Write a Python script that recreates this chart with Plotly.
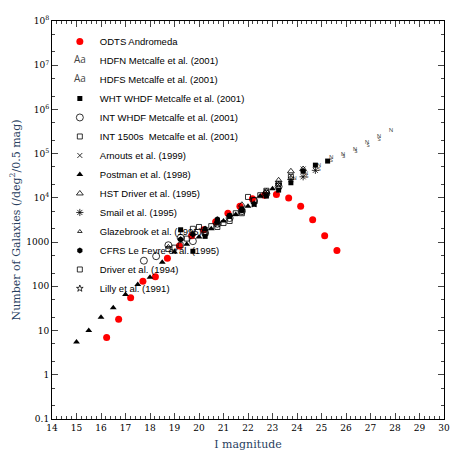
import plotly.graph_objects as go

# ODTS Andromeda
odts_mag = [16.23, 16.72, 17.21, 17.71, 18.22, 18.71, 19.2, 19.7, 20.19, 20.68, 21.18, 21.67,
            22.18, 22.67, 23.16, 23.66, 24.15, 24.64, 25.13, 25.63]
odts_n = [7, 18, 55, 130, 165, 430, 820, 1400, 1900, 2900, 4500, 6500,
          9500, 11500, 12000, 10000, 6500, 3200, 1400, 650]

hdfn_mag = [23.9, 24.37, 24.9, 25.4, 25.88, 26.37, 26.86, 27.35, 27.84]
hdfn_n = [27000, 36000, 55000, 83000, 95000, 125000, 175000, 250000, 330000]
hdfs_mag = [24.4, 24.9, 25.4, 25.9, 26.4, 26.9, 27.35]
hdfs_n = [30000, 45000, 70000, 85000, 110000, 150000, 210000]

wht_mag = [19.25, 19.75, 20.25, 20.75, 21.25, 21.75, 22.25, 22.75, 23.25, 23.75, 24.25, 24.75, 25.25]
wht_n = [1900, 620, 1350, 2900, 3900, 5500, 7200, 11000, 15000, 22000, 40000, 55000, 68000]

intw_mag = [17.75, 18.25, 18.75, 19.25, 19.75, 20.25, 20.75, 21.25, 21.75, 22.25, 22.75, 23.25]
intw_n = [380, 480, 850, 1250, 1050, 1600, 2600, 3500, 5000, 8500, 12500, 18000]

int15_mag = [18.75, 19.25, 19.75, 20.25, 20.75, 21.25, 21.75, 22.25, 22.75, 23.25, 23.75]
int15_n = [700, 850, 2000, 1600, 2200, 3000, 4500, 9000, 14500, 21000, 30000]

arn_mag = [22.75, 23.25, 23.75, 24.25]
arn_n = [14000, 20000, 32000, 45000]

post_mag = [15.0, 15.5, 16.0, 16.5, 17.0, 17.5, 18.0, 18.5, 19.0, 19.5, 20.0, 20.5,
            21.0, 21.5, 22.0, 22.5, 23.0]
post_n = [5.5, 10, 20, 33, 65, 110, 160, 350, 600, 900, 1300, 2000, 3000, 4200, 6500, 11000, 16000]

hst_mag = [21.75, 22.75, 23.25, 23.75, 24.25]
hst_n = [7000, 14000, 25000, 40000, 45000]

smail_mag = [23.75, 24.25, 24.75]
smail_n = [26000, 30000, 42000]

glaze_mag = [18.75, 19.25, 19.75, 20.25]
glaze_n = [800, 1200, 1500, 2000]

cfrs_mag = [19.25, 19.75, 20.25, 20.75, 21.25, 21.75]
cfrs_n = [1150, 1500, 2000, 3300, 4000, 5200]

driv_mag = [19.0, 19.5, 20.0, 20.5, 21.0, 21.5, 22.0, 22.5]
driv_n = [750, 1200, 2200, 2300, 2700, 4500, 10500, 11500]

lilly_mag = [20.25, 20.75, 21.25, 21.75, 22.25, 22.75, 23.25]
lilly_n = [1800, 2600, 3800, 5200, 7200, 12000, 20000]

fig = go.Figure()


def add(name, x, y, symbol, size=5, color='black'):
    fig.add_trace(go.Scatter(x=x, y=y, mode='markers', name=name,
                             marker=dict(symbol=symbol, size=size, color=color,
                                         line=dict(color='black', width=0.8) if 'open' in symbol else dict(width=0))))


def add_text(name, x, y, t):
    fig.add_trace(go.Scatter(x=x, y=y, mode='text', name=name, text=[t] * len(x),
                             textfont=dict(size=6, color='#444')))


add('ODTS Andromeda', odts_mag, odts_n, 'circle', 7, 'red')
add_text('HDFN Metcalfe et al. (2001)', hdfn_mag, hdfn_n, 'N')
add_text('HDFS Metcalfe et al. (2001)', hdfs_mag, hdfs_n, 'S')
add('WHT WHDF Metcalfe et al. (2001)', wht_mag, wht_n, 'square', 5)
add('INT WHDF Metcalfe et al. (2001)', intw_mag, intw_n, 'circle-open', 7)
add('INT 1500s  Metcalfe et al. (2001)', int15_mag, int15_n, 'square-open', 5)
add('Arnouts et al. (1999)', arn_mag, arn_n, 'x-thin-open', 5)
add('Postman et al. (1998)', post_mag, post_n, 'triangle-up', 6)
add('HST Driver et al. (1995)', hst_mag, hst_n, 'triangle-up-open', 6)
add('Smail et al. (1995)', smail_mag, smail_n, 'asterisk-open', 6)
add('Glazebrook et al. (1995)', glaze_mag, glaze_n, 'triangle-up-open', 4)
add('CFRS Le Fevre et al. (1995)', cfrs_mag, cfrs_n, 'hexagon', 6)
add('Driver et al. (1994)', driv_mag, driv_n, 'square-open', 5)
add('Lilly et al. (1991)', lilly_mag, lilly_n, 'star-open', 5)

ytick_vals = [0.1, 1, 10, 100, 1000, 1e4, 1e5, 1e6, 1e7, 1e8]
ytick_text = ['0.1', '1', '10', '100', '1000', '10<sup>4</sup>', '10<sup>5</sup>',
              '10<sup>6</sup>', '10<sup>7</sup>', '10<sup>8</sup>']

axis_common = dict(showline=True, linecolor='black', linewidth=1, mirror='ticks',
                   ticks='inside', ticklen=6, showgrid=False, zeroline=False, automargin=False,
                   tickfont=dict(family='DejaVu Serif', size=9, color='black'))

fig.update_layout(
    width=463, height=463,
    margin=dict(l=44, r=27, t=13, b=52),
    plot_bgcolor='white', paper_bgcolor='white',
    showlegend=True,
    legend=dict(x=0.02, y=0.985, bgcolor='rgba(0,0,0,0)', borderwidth=0,
                font=dict(family='Liberation Sans', size=9.5, color='black'),
                tracegroupgap=0, itemwidth=30),
    xaxis=dict(range=[14, 30], dtick=1, minor=dict(ticks='inside', ticklen=3, dtick=0.2),
               title=dict(text='I magnitude', font=dict(family='DejaVu Serif', size=11), standoff=8),
               **axis_common),
    yaxis=dict(type='log', range=[-1, 8], tickvals=ytick_vals, ticktext=ytick_text,
               minor=dict(ticks='inside', ticklen=3),
               title=dict(text='Number of Galaxies (/deg<sup>2</sup>/0.5 mag)',
                          font=dict(family='DejaVu Serif', size=11), standoff=4),
               **axis_common),
)

fig.write_html("out.html")
